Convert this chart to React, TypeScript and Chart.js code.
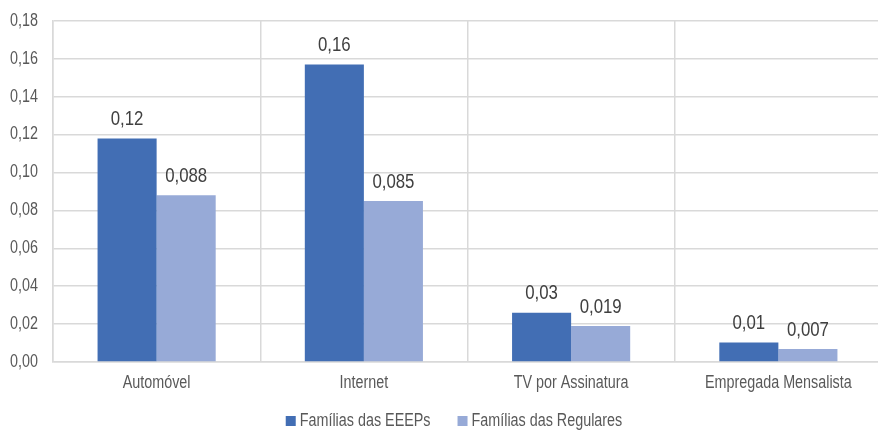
import React, { useEffect, useRef } from "react";
import { Chart, registerables } from "chart.js";

Chart.register(...registerables);

const categories = ["Automóvel", "Internet", "TV por Assinatura", "Empregada Mensalista"];
const seriesNames = ["Famílias das EEEPs", "Famílias das Regulares"];
const eeepValues = [0.118, 0.157, 0.026, 0.0103];
const regularValues = [0.088, 0.085, 0.019, 0.0069];
const eeepLabels = ["0,12", "0,16", "0,03", "0,01"];
const regularLabels = ["0,088", "0,085", "0,019", "0,007"];
const yTicks = [0, 0.02, 0.04, 0.06, 0.08, 0.1, 0.12, 0.14, 0.16, 0.18];
const yTickLabels = ["0,00", "0,02", "0,04", "0,06", "0,08", "0,10", "0,12", "0,14", "0,16", "0,18"];

const colors = ["#426EB4", "#97AAD7"];
const FONT = "17.5px 'Liberation Sans', Arial, sans-serif";
const LABEL_FONT = "20.5px 'Liberation Sans', Arial, sans-serif";
const NARROW = 0.82;

function narrowText(ctx: CanvasRenderingContext2D, text: string, x: number, y: number, align: "left" | "center" | "right") {
  ctx.save();
  ctx.translate(x, y);
  ctx.scale(NARROW, 1);
  ctx.textAlign = align;
  ctx.textBaseline = "middle";
  ctx.fillText(text, 0, 0);
  ctx.restore();
}

function narrowWidth(ctx: CanvasRenderingContext2D, text: string) {
  return ctx.measureText(text).width * NARROW;
}

const textPlugin = {
  id: "narrowText",
  afterDatasetsDraw(chart: any) {
    const ctx: CanvasRenderingContext2D = chart.ctx;
    const area = chart.chartArea;
    const xs = chart.scales.x;
    const ys = chart.scales.y;
    ctx.save();
    ctx.font = FONT;

    // y tick labels
    ctx.fillStyle = "#595959";
    yTicks.forEach((v, i) => {
      narrowText(ctx, yTickLabels[i], area.left - 15, ys.getPixelForValue(v), "right");
    });

    // x category labels
    categories.forEach((c, i) => {
      narrowText(ctx, c, xs.getPixelForValue(i), area.bottom + 21, "center");
    });

    // legend
    const box = 10;
    const boxGap = 4;
    const itemGap = 27;
    const widths = seriesNames.map((n) => narrowWidth(ctx, n));
    const total = widths.reduce((a, w) => a + box + boxGap + w, 0) + itemGap * (seriesNames.length - 1);
    let x = 454 - total / 2;
    const ly = area.bottom + 59;
    seriesNames.forEach((n, i) => {
      ctx.fillStyle = colors[i];
      ctx.fillRect(x, ly - box / 2, box, box);
      x += box + boxGap;
      ctx.fillStyle = "#595959";
      narrowText(ctx, n, x, ly, "left");
      x += widths[i] + itemGap;
    });

    // data labels
    ctx.font = LABEL_FONT;
    ctx.fillStyle = "#404040";
    const labelSets = [eeepLabels, regularLabels];
    chart.data.datasets.forEach((_ds: any, di: number) => {
      const meta = chart.getDatasetMeta(di);
      meta.data.forEach((bar: any, i: number) => {
        narrowText(ctx, labelSets[di][i], bar.x, bar.y - 19, "center");
      });
    });
    ctx.restore();
  },
};

export default function App() {
  const ref = useRef<HTMLCanvasElement>(null);
  useEffect(() => {
    if (!ref.current) return;
    const chart = new Chart(ref.current, {
      type: "bar",
      data: {
        labels: categories,
        datasets: [
          { label: seriesNames[0], data: eeepValues, backgroundColor: colors[0] },
          { label: seriesNames[1], data: regularValues, backgroundColor: colors[1] },
        ],
      },
      options: {
        animation: false,
        responsive: false,
        layout: { padding: { top: 21, right: 2, bottom: 70, left: 53 } },
        datasets: { bar: { barPercentage: 1, categoryPercentage: 0.57 } },
        scales: {
          x: {
            grid: { color: "#d9d9d9", lineWidth: 1.5, drawTicks: false, offset: true },
            border: { color: "#d9d9d9", width: 1.5 },
            ticks: { display: false },
          },
          y: {
            min: 0,
            max: 0.18,
            afterBuildTicks: (axis: any) => {
              axis.ticks = yTicks.map((v) => ({ value: v }));
            },
            grid: { color: "#d9d9d9", lineWidth: 1.5, drawTicks: false },
            border: { color: "#d9d9d9", width: 1.5 },
            ticks: { display: false },
          },
        },
        plugins: {
          legend: { display: false },
          tooltip: { enabled: false },
        },
      },
      plugins: [textPlugin],
    });
    return () => chart.destroy();
  }, []);
  return (
    <div style={{ position: "fixed", left: 0, top: 0, width: 878, height: 432, overflow: "hidden", background: "#fff" }}>
      <canvas ref={ref} width={884} height={432} style={{ display: "block" }} />
    </div>
  );
}
